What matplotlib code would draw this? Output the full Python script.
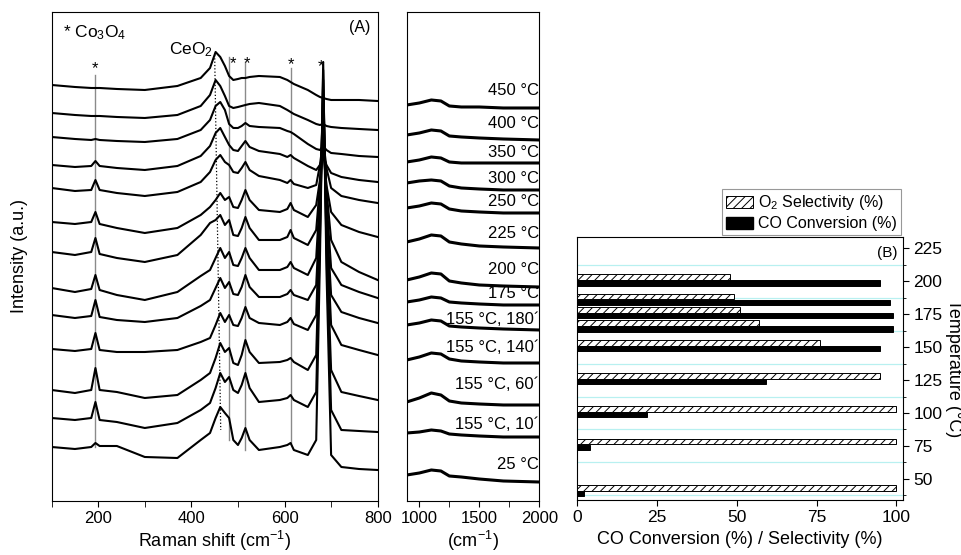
import numpy as np
import matplotlib.pyplot as plt
from matplotlib.patches import Patch

plt.rcParams['font.family'] = ['Liberation Sans', 'DejaVu Sans']
plt.rcParams['mathtext.fontset'] = 'custom'
plt.rcParams['mathtext.rm'] = 'Liberation Sans'
plt.rcParams['mathtext.it'] = 'Liberation Sans:italic'
plt.rcParams['mathtext.bf'] = 'Liberation Sans:bold'
plt.rcParams['hatch.linewidth'] = 0.7
plt.rcParams['xtick.direction'] = 'out'
plt.rcParams['ytick.direction'] = 'out'

# ---- Raman spectra (stacked, a.u.) ----
# values are read as "depth" below the top of the stack, TOP - depth gives the plotted intensity
TOP = 500
temp_labels = ['450 °C', '400 °C', '350 °C', '300 °C', '250 °C', '225 °C', '200 °C',
               '175 °C', '155 °C, 180´', '155 °C, 140´', '155 °C, 60´', '155 °C, 10´', '25 °C']

shift_low = [100, 150, 185, 194, 203, 240, 300, 370, 420, 440, 452, 462, 472, 481, 490, 500, 508,
             516, 525, 545, 590, 606, 613, 620, 650, 668, 676, 683, 690, 700, 722, 760, 800]
stack_low = [
    [85, 87, 88, 88, 88, 89, 90, 86, 78, 68, 52, 57, 66, 76, 80, 79, 78, 78, 77, 76, 77, 80, 82, 84, 90, 95, 97, 98, 99, 100, 100, 100, 101],
    [113, 115, 116, 116, 116, 117, 118, 115, 106, 95, 80, 86, 96, 106, 108, 107, 106, 105, 104, 103, 106, 110, 112, 114, 120, 124, 125, 124, 126, 127, 128, 129, 130],
    [137, 139, 140, 139, 140, 141, 142, 139, 130, 120, 106, 102, 110, 124, 128, 128, 126, 123, 126, 127, 128, 131, 132, 134, 144, 149, 150, 146, 150, 153, 154, 156, 157],
    [165, 167, 166, 161, 166, 168, 170, 166, 156, 146, 133, 128, 137, 145, 150, 151, 146, 141, 147, 151, 154, 157, 155, 158, 166, 170, 165, 155, 165, 173, 177, 180, 182],
    [188, 191, 190, 180, 190, 193, 196, 192, 182, 172, 160, 155, 162, 165, 172, 173, 168, 162, 170, 176, 180, 183, 180, 184, 188, 185, 165, 140, 168, 188, 196, 200, 203],
    [222, 224, 222, 212, 224, 228, 233, 228, 215, 207, 200, 193, 200, 197, 207, 208, 200, 190, 200, 210, 212, 209, 203, 210, 217, 205, 180, 150, 185, 212, 225, 232, 237],
    [252, 255, 252, 238, 254, 258, 262, 255, 235, 223, 220, 215, 225, 220, 235, 236, 228, 217, 228, 240, 240, 237, 230, 238, 245, 230, 185, 130, 190, 240, 262, 272, 280],
    [288, 292, 289, 275, 290, 295, 300, 292, 276, 270, 258, 248, 258, 252, 265, 266, 258, 248, 258, 270, 270, 267, 262, 268, 275, 258, 195, 115, 200, 268, 285, 292, 298],
    [315, 318, 316, 300, 317, 320, 322, 318, 306, 300, 288, 278, 288, 282, 294, 295, 287, 275, 287, 297, 297, 294, 290, 295, 300, 285, 210, 100, 215, 295, 312, 318, 323],
    [349, 351, 349, 333, 350, 352, 352, 350, 342, 338, 325, 313, 322, 315, 325, 326, 318, 307, 318, 323, 325, 322, 318, 324, 330, 315, 215, 90, 225, 325, 345, 350, 355],
    [390, 393, 390, 368, 390, 392, 398, 395, 380, 373, 358, 343, 352, 348, 363, 365, 355, 340, 352, 363, 362, 360, 358, 362, 370, 355, 230, 80, 240, 370, 392, 396, 400],
    [418, 420, 418, 402, 420, 422, 428, 423, 410, 403, 388, 373, 382, 377, 390, 393, 385, 373, 388, 402, 400, 398, 395, 400, 407, 392, 240, 70, 250, 410, 430, 431, 432],
    [447, 449, 447, 443, 446, 446, 457, 458, 440, 433, 418, 407, 413, 418, 440, 445, 438, 428, 440, 450, 447, 445, 443, 450, 455, 440, 260, 62, 270, 455, 467, 469, 470],
]

shift_high = [895, 1000, 1100, 1180, 1250, 1350, 1500, 1700, 2000]
stack_high = [
    [105, 103, 100, 101, 106, 107, 107, 108, 108],
    [135, 133, 130, 131, 136, 137, 138, 139, 140],
    [162, 160, 157, 158, 162, 163, 163, 163, 163],
    [183, 181, 180, 181, 186, 188, 189, 190, 190],
    [208, 206, 203, 204, 209, 211, 212, 213, 213],
    [242, 239, 235, 236, 242, 244, 246, 247, 248],
    [280, 277, 273, 274, 281, 283, 285, 286, 287],
    [302, 300, 297, 298, 302, 303, 304, 305, 305],
    [325, 323, 320, 321, 326, 327, 328, 329, 330],
    [360, 357, 353, 354, 359, 361, 362, 363, 363],
    [402, 398, 393, 395, 401, 403, 404, 405, 405],
    [433, 432, 430, 431, 434, 435, 436, 437, 437],
    [475, 473, 470, 471, 476, 477, 479, 481, 482],
]
label_depth = [91, 124, 153, 179, 202, 234, 270, 294, 320, 348, 385, 425, 465]

# Co3O4 band markers (cm-1) and the span of their guide lines (depth)
co_bands = [194, 481, 516, 613]
band_top = [75, 57, 62, 68]
band_bottom = [447, 440, 450, 443]
star_x = [194, 490, 520, 614, 679]
star_depth = [73, 68, 68, 69, 71]

# ---- catalytic test (B) ----
temps = [200, 185, 175, 165, 150, 125, 100, 75, 40]
o2_sel = [48, 49, 51, 57, 76, 95, 100, 100, 100]
co_conv = [95, 98, 99, 99, 95, 59, 22, 4, 2]

fig = plt.figure(figsize=(9.62, 5.55), dpi=100)
axA = fig.add_axes([0.0537, 0.0973, 0.3389, 0.8811])
axH = fig.add_axes([0.4228, 0.0973, 0.1378, 0.8811])
axB = fig.add_axes([0.6001, 0.0991, 0.3383, 0.4739])

# panel A
for x0, t, b in zip(co_bands, band_top, band_bottom):
    axA.plot([x0, x0], [TOP - t, TOP - b], color='#8a8a8a', lw=1.0, zorder=1)
axA.plot([450, 463], [TOP - 55, TOP - 430], color='black', ls=':', lw=0.9, zorder=1)
for row in stack_low:
    axA.plot(shift_low, TOP - np.array(row), color='black', lw=1.5, zorder=2)
for sx, sd in zip(star_x, star_depth):
    axA.text(sx, TOP - sd, '*', ha='center', va='baseline', fontsize=12)
axA.text(124, TOP - 33, '* Co$_3$O$_4$', ha='left', va='center', fontsize=12.5)
axA.text(446, TOP - 50, 'CeO$_2$', ha='right', va='center', fontsize=12.5)
axA.text(784, TOP - 28, '(A)', ha='right', va='center', fontsize=11.5)
axA.set_xlim(100, 800)
axA.set_ylim(-1, 488)
axA.set_yticks([])
axA.set_xticks([200, 400, 600, 800])
axA.set_xticks([100, 300, 500, 700], minor=True)
axA.tick_params(axis='x', which='both', length=4, labelsize=12)
axA.set_xlabel('Raman shift (cm$^{-1}$)', fontsize=13, labelpad=2)
axA.set_ylabel('Intensity (a.u.)', fontsize=13, labelpad=17)

# high wavenumber panel
for row, lab, ld in zip(stack_high, temp_labels, label_depth):
    axH.plot(shift_high, TOP - np.array(row), color='black', lw=2.2)
    axH.text(1998, TOP - ld, lab, ha='right', va='center', fontsize=12)
axH.set_xlim(895, 2000)
axH.set_ylim(-1, 488)
axH.set_yticks([])
axH.set_xticks([1000, 1500, 2000])
axH.set_xticks([1250, 1750], minor=True)
axH.tick_params(axis='x', which='both', length=4, labelsize=12)
axH.set_xlabel('(cm$^{-1}$)', fontsize=13, labelpad=2)

# panel B
t = np.array(temps)
axB.barh(t + 3.2, o2_sel, height=4.2, color='white', edgecolor='black', hatch='////', lw=0.7, zorder=3)
axB.barh(t - 1.2, co_conv, height=4.2, color='black', edgecolor='black', lw=0.7, zorder=3)
axB.set_xlim(0, 102)
axB.set_ylim(34, 233.5)
axB.set_xticks([0, 25, 50, 75, 100])
axB.set_yticks([50, 75, 100, 125, 150, 175, 200, 225])
axB.set_yticks(np.arange(37.5, 225, 25), minor=True)
axB.yaxis.tick_right()
axB.yaxis.set_label_position('right')
axB.grid(True, axis='y', which='minor', color='#b8f0f0', lw=0.9, zorder=0)
axB.tick_params(axis='both', which='major', length=4, labelsize=12.5)
axB.tick_params(axis='y', which='minor', length=2.5)
axB.set_xlabel('CO Conversion (%) / Selectivity (%)', fontsize=13, labelpad=4)
axB.set_ylabel('Temperature (°C)', fontsize=13, rotation=270, labelpad=14)
axB.text(0.985, 0.965, '(B)', transform=axB.transAxes, ha='right', va='top', fontsize=11)

handles = [Patch(facecolor='white', edgecolor='black', hatch='////', lw=0.7, label='O$_2$ Selectivity (%)'),
           Patch(facecolor='black', edgecolor='black', label='CO Conversion (%)')]
leg = axB.legend(handles=handles, loc='lower right', bbox_to_anchor=(1.0, 1.0), fontsize=11.5,
                 frameon=True, fancybox=False, edgecolor='#7f7f7f', borderaxespad=0.1,
                 borderpad=0.25, labelspacing=0.25, handlelength=1.7, handleheight=0.8,
                 handletextpad=0.3)
leg.get_frame().set_linewidth(0.8)

fig.savefig('out.png', dpi=100)
